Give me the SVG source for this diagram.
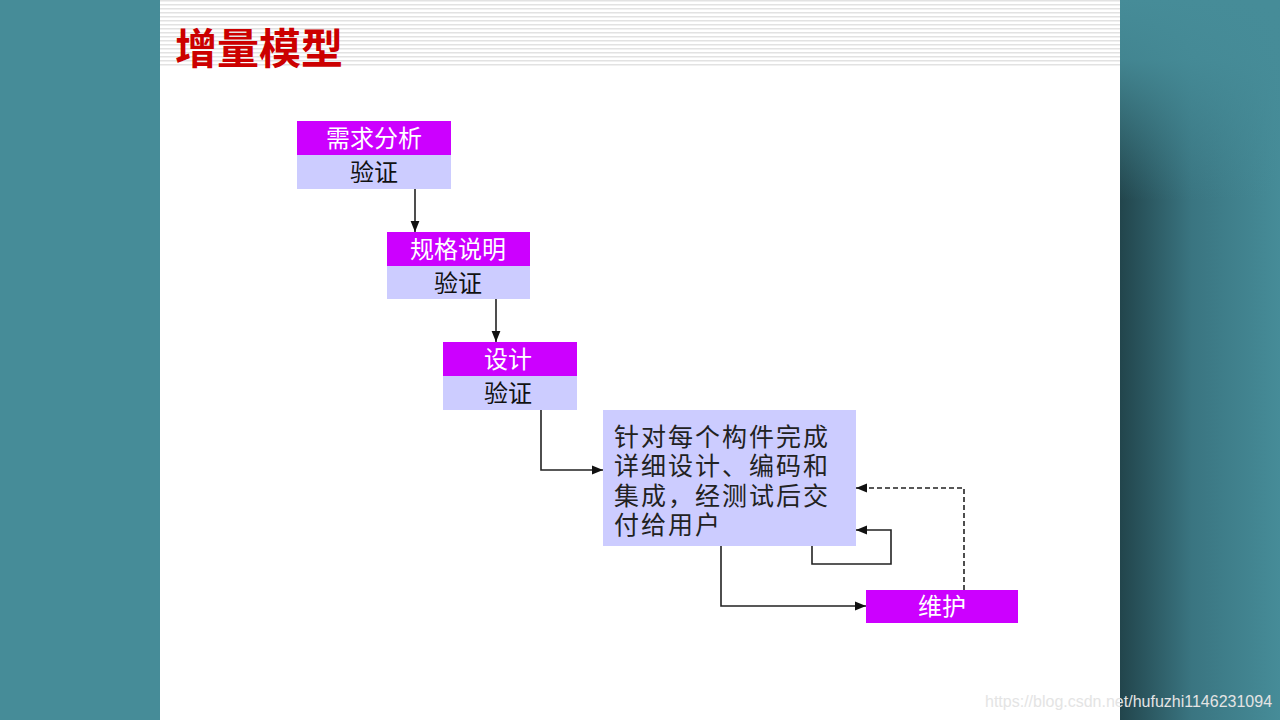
<svg xmlns="http://www.w3.org/2000/svg" width="1280" height="720" viewBox="0 0 1280 720">
<defs>
<pattern id="stripes" x="0" y="0" width="8" height="4" patternUnits="userSpaceOnUse">
<rect width="8" height="4" fill="#ffffff"/>
<rect y="0" width="8" height="1.5" fill="#e2e2e2"/>
</pattern>
<linearGradient id="shadowH" x1="0" y1="0" x2="1" y2="0">
<stop offset="0" stop-color="#22454c"/>
<stop offset="0.45" stop-color="#3a7581"/>
<stop offset="1" stop-color="#468c98"/>
</linearGradient>
<linearGradient id="fadeV" x1="0" y1="0" x2="0" y2="1">
<stop offset="0" stop-color="#468c98" stop-opacity="1"/>
<stop offset="0.15" stop-color="#468c98" stop-opacity="0.9"/>
<stop offset="0.5" stop-color="#468c98" stop-opacity="0"/>
</linearGradient>
<marker id="arr" viewBox="0 0 10 10" refX="10" refY="5" markerWidth="11" markerHeight="11" markerUnits="userSpaceOnUse" orient="auto">
<path d="M0,1 L10,5 L0,9 Z" fill="#111"/>
</marker>
<style>
.hd{fill:#cc00ff}
.bd{fill:#ccccff}
.wt{font-family:"Noto Sans CJK SC","Liberation Sans",sans-serif;font-size:24px;fill:#ffffff;text-anchor:middle}
.bt{font-family:"Noto Sans CJK SC","Liberation Sans",sans-serif;font-size:24px;fill:#111111;text-anchor:middle}
.big{font-family:"Liberation Sans","Noto Sans CJK SC",sans-serif;font-size:25px;fill:#222222;letter-spacing:2px}
.ln{fill:none;stroke:#222;stroke-width:1.6}
</style>
</defs>
<rect width="1280" height="720" fill="#468c98"/>
<rect x="1120" y="0" width="160" height="720" fill="url(#shadowH)"/>
<rect x="1120" y="0" width="160" height="400" fill="url(#fadeV)"/>
<rect x="160" y="0" width="960" height="720" fill="#ffffff"/>
<rect x="160" y="0" width="960" height="68" fill="url(#stripes)"/>
<text x="175" y="64" font-family="Noto Sans CJK SC, Liberation Sans, sans-serif" font-size="42" font-weight="bold" fill="#cc0000">增量模型</text>

<g id="node-req">
<rect class="hd" x="297" y="121" width="154" height="34"/>
<rect class="bd" x="297" y="155" width="154" height="34"/>
<text class="wt" x="374" y="147">需求分析</text>
<text class="bt" x="374" y="181">验证</text>
</g>
<g id="node-spec">
<rect class="hd" x="387" y="232" width="143" height="34"/>
<rect class="bd" x="387" y="266" width="143" height="33"/>
<text class="wt" x="458" y="258">规格说明</text>
<text class="bt" x="458" y="292">验证</text>
</g>
<g id="node-design">
<rect class="hd" x="443" y="342" width="134" height="34"/>
<rect class="bd" x="443" y="376" width="134" height="34"/>
<text class="wt" x="508" y="368">设计</text>
<text class="bt" x="508" y="402">验证</text>
</g>
<g id="node-build">
<rect class="bd" x="603" y="410" width="253" height="136"/>
<text class="big" x="614" y="446">针对每个构件完成</text>
<text class="big" x="614" y="475">详细设计、编码和</text>
<text class="big" x="614" y="505">集成，经测试后交</text>
<text class="big" x="614" y="534">付给用户</text>
</g>
<g id="node-maint">
<rect class="hd" x="866" y="590" width="152" height="33"/>
<text class="wt" x="942" y="615">维护</text>
</g>

<g id="connectors">
<path class="ln" d="M415,189 V232" marker-end="url(#arr)"/>
<path class="ln" d="M496,299 V342" marker-end="url(#arr)"/>
<path class="ln" d="M541,410 V470 H603" marker-end="url(#arr)"/>
<path class="ln" d="M721,546 V606 H866" marker-end="url(#arr)"/>
<path class="ln" d="M812,546 V564 H891 V530 H856" marker-end="url(#arr)"/>
<path class="ln" d="M964,590 V488 H856" stroke-dasharray="5,3" marker-end="url(#arr)"/>
</g>

<text x="985" y="707" font-family="Liberation Sans, sans-serif" font-size="16" fill="#e4e4e4">https://blog.csdn.net/hufuzhi1146231094</text>
</svg>
